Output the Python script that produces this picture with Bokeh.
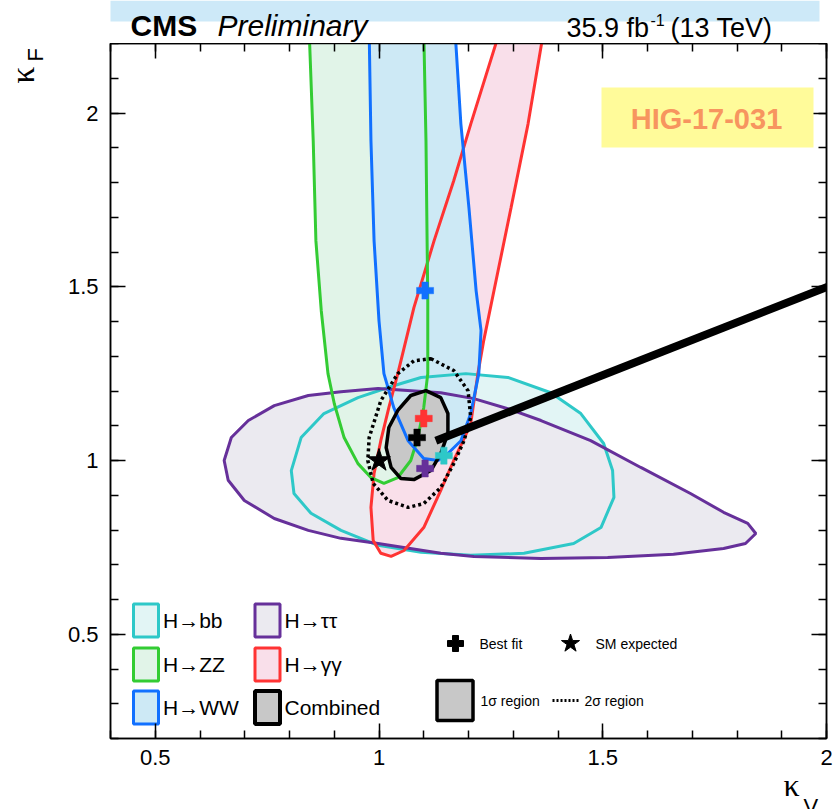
from bokeh.plotting import figure
from bokeh.layouts import column
from bokeh.models import Range1d, LinearAxis, Label, BoxAnnotation, FixedTicker
from bokeh.core.properties import value
from bokeh.embed import file_html
from bokeh.resources import INLINE

FONT = "Liberation Sans"
SERIF = "Liberation Serif"

# ---------------- data (kappa_V, kappa_F) ----------------
bb_kv = [0.804, 0.826, 0.877, 0.953, 1.027, 1.094, 1.194, 1.288, 1.384, 1.451, 1.502, 1.522,
         1.525, 1.496, 1.435, 1.324, 1.205, 1.094, 0.998, 0.915, 0.848, 0.810]
bb_kf = [0.971, 1.066, 1.135, 1.181, 1.213, 1.239, 1.250, 1.239, 1.195, 1.135, 1.049, 0.971,
         0.894, 0.807, 0.761, 0.733, 0.727, 0.736, 0.756, 0.799, 0.848, 0.905]

tt_kv = [0.654, 0.670, 0.708, 0.766, 0.842, 0.915, 0.998, 1.138, 1.212, 1.288, 1.362, 1.473,
         1.585, 1.696, 1.770, 1.824, 1.842, 1.819, 1.770, 1.658, 1.511, 1.362, 1.212, 1.138,
         0.998, 0.915, 0.842, 0.766, 0.699, 0.663]
tt_kf = [1.000, 1.066, 1.115, 1.158, 1.187, 1.198, 1.207, 1.195, 1.178, 1.149, 1.115, 1.057,
         0.980, 0.905, 0.851, 0.819, 0.790, 0.761, 0.747, 0.730, 0.721, 0.718, 0.724, 0.733,
         0.761, 0.776, 0.799, 0.833, 0.885, 0.943]

zz_kv = [0.844, 0.853, 0.859, 0.871, 0.886, 0.900, 0.922, 0.953, 0.982, 1.011, 1.042, 1.071,
         1.087, 1.100, 1.109, 1.109, 1.105, 1.100]
zz_kf = [2.236, 1.920, 1.632, 1.431, 1.250, 1.164, 1.066, 0.991, 0.951, 0.934, 0.951, 1.000,
         1.066, 1.152, 1.250, 1.460, 1.920, 2.236]

ww_kv = [0.978, 0.982, 0.989, 1.000, 1.011, 1.033, 1.065, 1.100, 1.132, 1.154, 1.183, 1.205,
         1.223, 1.228, 1.217, 1.201, 1.183, 1.170]
ww_kf = [2.236, 1.920, 1.632, 1.402, 1.250, 1.152, 1.057, 1.006, 1.000, 1.020, 1.057, 1.135,
         1.250, 1.374, 1.489, 1.727, 1.968, 2.236]

gg_kv = [1.270, 1.205, 1.167, 1.123, 1.078, 1.042, 1.022, 1.004, 0.989, 0.982, 0.987, 1.004,
         1.027, 1.056, 1.100, 1.138, 1.167, 1.188, 1.205, 1.221, 1.234, 1.257, 1.295, 1.333, 1.368]
gg_kf = [2.236, 1.968, 1.805, 1.632, 1.440, 1.250, 1.152, 1.057, 0.963, 0.865, 0.770, 0.733,
         0.724, 0.741, 0.807, 0.914, 1.000, 1.057, 1.106, 1.250, 1.345, 1.489, 1.727, 1.968, 2.236]

comb1_kv = [1.105, 1.138, 1.154, 1.154, 1.138, 1.116, 1.078, 1.049, 1.027, 1.016, 1.022, 1.042, 1.071]
comb1_kf = [1.201, 1.181, 1.135, 1.078, 1.020, 0.971, 0.945, 0.948, 0.980, 1.037, 1.095, 1.144, 1.187]

comb2_kv = [1.116, 1.167, 1.199, 1.205, 1.190, 1.167, 1.138, 1.100, 1.065, 1.020, 0.987, 0.975,
            0.978, 1.004, 1.042, 1.078]
comb2_kf = [1.293, 1.259, 1.201, 1.124, 1.057, 0.991, 0.922, 0.876, 0.865, 0.885, 0.934, 1.000,
            1.066, 1.172, 1.250, 1.287]

best_names = ["bb", "tautau", "gamgam", "WW", "combined"]
best_kv = [1.145, 1.103, 1.100, 1.103, 1.085]
best_kf = [1.014, 0.977, 1.121, 1.489, 1.066]

sm_kv = [1.0]
sm_kf = [1.0]

pointer_kv = [1.127, 2.03]
pointer_kf = [1.057, 1.514]

x_major = [0.5, 1.0, 1.5, 2.0]
y_major = [0.5, 1.0, 1.5, 2.0]
x_minor = [0.4, 0.5, 0.6, 0.7, 0.8, 0.9, 1.0, 1.1, 1.2, 1.3, 1.4, 1.5, 1.6, 1.7, 1.8, 1.9, 2.0]
y_minor = [0.2, 0.3, 0.4, 0.5, 0.6, 0.7, 0.8, 0.9, 1.0, 1.1, 1.2, 1.3, 1.4, 1.5, 1.6, 1.7, 1.8,
           1.9, 2.0, 2.1, 2.2]

legend_labels = ["H\u2192bb", "H\u2192ZZ", "H\u2192WW", "H\u2192\u03c4\u03c4", "H\u2192\u03b3\u03b3", "Combined"]

# ---------------- styles ----------------
C_BB, F_BB = "#2ec8c8", "#e2f5f5"
C_TT, F_TT = "#66309a", "#ebeaf0"
C_ZZ, F_ZZ = "#33cc33", "#e1f4e8"
C_WW, F_WW = "#1170ff", "#cde9f5"
C_GG, F_GG = "#ff3333", "#f9dfea"
C_CB, F_CB = "#000000", "#c8c8c8"

W = 834
HEAD_H, MAIN_H, FOOT_H = 43, 733, 33
L, R, T, B = 110, 826, 43, 738          # frame edges in page pixels
X0, X1, Y0, Y1 = 0.4, 2.0, 0.2, 2.2


def dx(px):
    return X0 + (px - L) * (X1 - X0) / (R - L)


def dy(py):
    return Y1 - (py - T) * (Y1 - Y0) / (B - T)


def strip(height, y_top):
    # page-pixel coordinate strip; its frame is aligned with the main frame (L..R)
    f = figure(width=W, height=height, x_range=Range1d(L, R),
               y_range=Range1d(y_top + height, y_top),
               output_backend="svg", toolbar_location=None,
               min_border_left=L, min_border_right=W - R, min_border_top=0, min_border_bottom=0,
               x_axis_location=None, y_axis_location=None)
    f.grid.visible = False
    f.outline_line_color = None
    f.background_fill_color = "white"
    f.border_fill_color = "white"
    return f


# ---------------- header strip ----------------
head = strip(HEAD_H, 0)
head.quad(left=[101], right=[819], top=[0], bottom=[21], fill_color="#cde9f8", line_color=None)
head.text(x=[130], y=[25], text=["CMS"], text_font=value(FONT), text_font_style="bold",
          text_font_size="30px", text_color="black", text_baseline="middle")
head.text(x=[217], y=[25], text=["Preliminary"], text_font=value(FONT), text_font_style="italic",
          text_font_size="30px", text_color="black", text_baseline="middle")
head.text(x=[566], y=[27], text=["35.9 fb"], text_font=value(FONT),
          text_font_size="27px", text_color="black", text_baseline="middle")
head.text(x=[650], y=[19], text=["-1"], text_font=value(FONT),
          text_font_size="16px", text_color="black", text_baseline="middle")
head.text(x=[772], y=[27], text=["(13 TeV)"], text_font=value(FONT), text_align="right",
          text_font_size="27px", text_color="black", text_baseline="middle")

# ---------------- main plot ----------------
p = figure(width=W, height=MAIN_H, x_range=Range1d(X0, X1), y_range=Range1d(Y0, Y1),
           output_backend="svg", toolbar_location=None,
           min_border_left=L, min_border_right=W - R, min_border_top=0,
           min_border_bottom=MAIN_H - (B - T),
           x_axis_location=None, y_axis_location=None)
p.grid.visible = False
p.outline_line_color = "black"
p.outline_line_width = 1.5
p.background_fill_color = "white"
p.border_fill_color = "white"


def make_axis(ticks, minors, show_labels, standoff=12):
    ax = LinearAxis(ticker=FixedTicker(ticks=ticks, minor_ticks=minors))
    ax.major_tick_in = 15
    ax.major_tick_out = 0
    ax.minor_tick_in = 8
    ax.minor_tick_out = 0
    ax.major_tick_line_width = 1.5
    ax.minor_tick_line_width = 1.5
    ax.axis_line_width = 1.5
    ax.major_label_text_font = FONT
    ax.major_label_text_color = "black"
    if show_labels:
        ax.major_label_text_font_size = "22px"
        ax.major_label_standoff = standoff
    else:
        ax.major_label_overrides = {t: "" for t in ticks}
        ax.major_label_text_font_size = "0px"
        ax.major_label_standoff = 0
    return ax


p.add_layout(make_axis(x_major, x_minor, True, 11), "below")
p.add_layout(make_axis(y_major, y_minor, True, 12), "left")
p.add_layout(make_axis(x_major, x_minor, False), "above")
p.add_layout(make_axis(y_major, y_minor, False), "right")

contours = [
    (bb_kv, bb_kf, C_BB, F_BB),
    (tt_kv, tt_kf, C_TT, F_TT),
    (gg_kv, gg_kf, C_GG, F_GG),
    (zz_kv, zz_kf, C_ZZ, F_ZZ),
    (ww_kv, ww_kf, C_WW, F_WW),
]
for kv, kf, lc, fc in contours:
    p.patch(kv, kf, fill_color=fc, fill_alpha=1.0, line_color=None)
p.patch(comb1_kv, comb1_kf, fill_color=F_CB, line_color=None)

for kv, kf, lc, fc in contours:
    p.patch(kv, kf, fill_color=None, line_color=lc, line_width=3)
p.patch(comb2_kv, comb2_kf, fill_color=None, line_color="black", line_width=3.5, line_dash="3 3")
p.patch(comb1_kv, comb1_kf, fill_color=None, line_color="black", line_width=3.5)

best_colors = [C_BB, C_TT, C_GG, C_WW, "black"]
p.scatter(best_kv, best_kf, marker="plus", size=17, fill_color=best_colors, line_color=best_colors,
          line_width=0.5)
p.scatter(sm_kv, sm_kf, marker="star", size=24, fill_color="black", line_color="black")

p.line(pointer_kv, pointer_kf, line_color="black", line_width=8)

# HIG box
p.add_layout(BoxAnnotation(left=dx(601), right=dx(813), top=dy(87), bottom=dy(147),
                           fill_color="#fffb9a", fill_alpha=1.0, line_color=None))
p.add_layout(Label(x=dx(706), y=dy(118), text="HIG-17-031", text_align="center",
                   text_baseline="middle", text_font=FONT, text_font_style="bold",
                   text_font_size="29px", text_color="#f7955f"))
p.line([dx(624), dx(789)], [dy(134), dy(134)], line_color="#f7955f", line_width=3)

# legend 1
leg_x = [145.5, 145.5, 145.5, 267, 267, 267]
leg_y = [620, 664, 707, 620, 664, 707]
leg_lc = [C_BB, C_ZZ, C_WW, C_TT, C_GG, C_CB]
leg_fc = [F_BB, F_ZZ, F_WW, F_TT, F_GG, F_CB]
leg_lw = [3, 3, 3, 3, 3, 4]
p.rect([dx(v) for v in leg_x], [dy(v) for v in leg_y], width=25, height=33,
       width_units="screen", height_units="screen", fill_color=leg_fc, line_color=leg_lc,
       line_width=leg_lw)
for lx, ly, txt in zip(leg_x, leg_y, legend_labels):
    p.add_layout(Label(x=dx(lx + 17), y=dy(ly), text=txt, text_baseline="middle",
                       text_font=FONT, text_font_size="21px", text_color="black"))

# legend 2
p.scatter([dx(455)], [dy(643)], marker="plus", size=16, color="black")
p.scatter([dx(570)], [dy(643)], marker="star", size=19, color="black")
p.rect([dx(454.5)], [dy(700)], width=36, height=40, width_units="screen", height_units="screen",
       fill_color=F_CB, line_color="black", line_width=3.5)
p.line([dx(552), dx(580)], [dy(700), dy(700)], line_color="black", line_width=3, line_dash="2 2")
for tx, ty, txt in [(479, 643, "Best fit"), (595, 643, "SM expected"),
                    (480, 700, "1\u03c3 region"), (584, 700, "2\u03c3 region")]:
    p.add_layout(Label(x=dx(tx), y=dy(ty), text=txt, text_baseline="middle",
                       text_font=FONT, text_font_size="14px", text_color="black"))

# y-axis title (kappa_F), drawn in the left side panel
p.add_layout(Label(x=dx(40), y=dy(83), text="\u03ba", angle=90, angle_units="deg",
                   text_font=SERIF, text_font_size="33px", text_color="black"), "left")
p.add_layout(Label(x=dx(47), y=dy(61), text="F", angle=90, angle_units="deg",
                   text_font=FONT, text_font_size="22px", text_color="black"), "left")

# ---------------- footer strip (kappa_V) ----------------
foot = strip(FOOT_H, HEAD_H + MAIN_H)
foot.text(x=[783], y=[784], text=["\u03ba"], text_font=value(SERIF), text_font_size="32px",
          text_color="black", text_baseline="middle")
foot.text(x=[803], y=[806], text=["V"], text_font=value(FONT), text_font_size="22px",
          text_color="black", text_baseline="middle")

layout = column(head, p, foot, spacing=0)
open("out.html", "w").write(file_html(layout, INLINE))
